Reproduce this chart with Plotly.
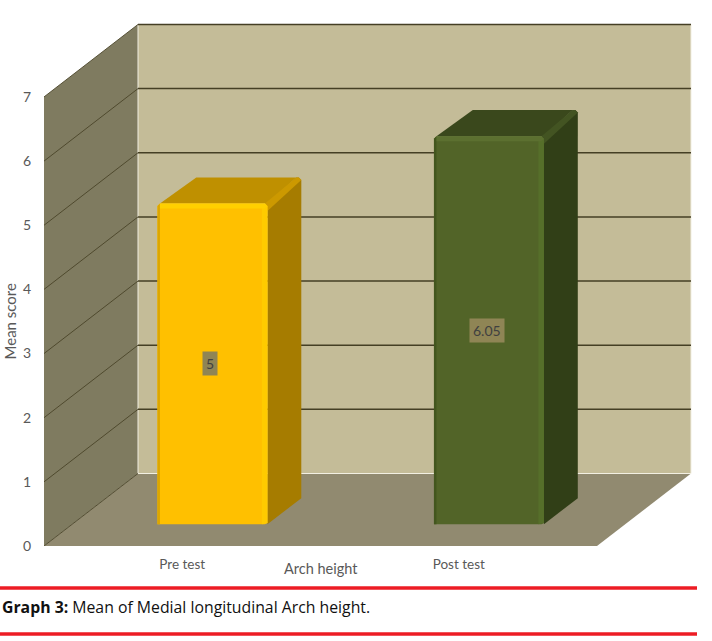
import plotly.graph_objects as go

categories = ['Pre test', 'Post test']
values = [5, 6.05]
value_labels = ['5', '6.05']
y_ticks = [0, 1, 2, 3, 4, 5, 6, 7]

W, H = 712, 641
LEFT, BOTTOM = 44, 95      # plot area starts at the front corner of the floor
PX_U = 276.5               # pixels per category
PX_V = 64.15               # pixels per score unit
DX = 94 / PX_U             # box depth, drawn obliquely
DY = 72.5 / PX_V
BAR_W = 110 / PX_U
BAR_SHIFT = 2 / PX_U
BAR_D0, BAR_D1 = 0.30, 0.66
X0 = -0.5
X1 = X0 + len(categories)
YMAX = y_ticks[-1]

FONT = 'Lato'
TXT = '#595959'


def pt(u, v, d=0.0):
    return u + d * DX, v + d * DY


def poly(points, color):
    xs = [p[0] for p in points] + [points[0][0]]
    ys = [p[1] for p in points] + [points[0][1]]
    return go.Scatter(x=xs, y=ys, mode='lines', fill='toself', fillcolor=color,
                      line=dict(color=color, width=0),
                      hoverinfo='skip', showlegend=False)


def path(points, color, width):
    return go.Scatter(x=[p[0] for p in points], y=[p[1] for p in points], mode='lines',
                      line=dict(color=color, width=width), hoverinfo='skip', showlegend=False)


fig = go.Figure()

# walls and floor
fig.add_trace(poly([pt(X0, 0), pt(X0, 0, 1), pt(X0, YMAX, 1), pt(X0, YMAX)], '#7f7b60'))
fig.add_trace(poly([pt(X0, 0, 1), pt(X1, 0, 1), pt(X1, YMAX, 1), pt(X0, YMAX, 1)], '#c4bc98'))
fig.add_trace(poly([pt(X0, 0), pt(X1, 0), pt(X1, 0, 1), pt(X0, 0, 1)], '#918a70'))

fig.add_trace(path([pt(X0, YMAX, 1), pt(X0, 0, 1), pt(X1, 0, 1), pt(X1, YMAX, 1)], '#f2efe2', 1))

# gridlines, along the side wall then the back wall
for t in y_ticks:
    fig.add_trace(path([pt(X0, t), pt(X0, t, 1)], '#4a4428', 0.9))
    if t > 0:
        fig.add_trace(path([pt(X0, t, 1), pt(X1, t, 1)], '#453f24', 1.5))

# bars
bar_styles = [
    dict(front='#ffc000', left='#dca600', right='#ffcb00', top_band='#ffd000',
         top='#bf9000', side='#a67c00', ridge='#cc9900'),
    dict(front='#526428', left='#43561e', right='#566f2a', top_band='#5c7030',
         top='#3a481c', side='#313f17', ridge='#435422'),
]
ex = 2.5 / PX_U    # bevel widths
ey = 2.5 / PX_V

for i, v in enumerate(values):
    st = bar_styles[i]
    c = i + BAR_SHIFT
    l, r = c - BAR_W / 2, c + BAR_W / 2

    def p(u, h, d=BAR_D0):
        return pt(u, h, d)

    # side face, its back top corner rounded off
    fig.add_trace(poly([p(r, v), p(r - 2 * ex, v, BAR_D1), p(r - ex, v, BAR_D1), p(r, v - ey, BAR_D1),
                        p(r, v - 2 * ey, BAR_D1), p(r, 0, BAR_D1), p(r, 0)], st['side']))
    fig.add_trace(poly([p(l + ex, v), p(l + 2 * ex, v, BAR_D1), p(r - 2 * ex, v, BAR_D1), p(r, v)], st['top']))
    # lighter ridge between top and side
    fig.add_trace(poly([p(r - ex, v), p(r - 2 * ex, v, BAR_D1), p(r - ex, v, BAR_D1), p(r, v - ey, BAR_D1),
                        p(r, v - 3 * ey)], st['ridge']))
    # front face
    fig.add_trace(poly([p(l + ex, 0), p(r - ex, 0), p(r, ey / 2), p(r, v - ey), p(r - ex, v),
                        p(l + ex, v), p(l, v - ey), p(l, 0)], st['front']))
    fig.add_trace(poly([p(l, 0), p(l + ex, 0), p(l + ex, v), p(l, v - ey)], st['left']))
    fig.add_trace(poly([p(r - 2.2 * ex, 0), p(r, ey / 2), p(r, v - ey), p(r - 2.2 * ex, v - ey)], st['right']))
    fig.add_trace(poly([p(l + ex, v - 2 * ey), p(r - ex, v - 2 * ey), p(r, v - ey), p(r - ex, v), p(l + ex, v)],
                       st['top_band']))

annotations = []

# value labels, centred on the front of each bar
for i, v in enumerate(values):
    x, y = pt(i + BAR_SHIFT, v / 2, BAR_D0)
    annotations.append(dict(x=x, y=y, xshift=-2, text=value_labels[i], showarrow=False,
                            bgcolor='#8f8555', borderpad=3,
                            font=dict(family=FONT, size=14, color='#404040')))

annotations.append(dict(x=0.5, y=0, yshift=-22, text='Arch height', showarrow=False,
                        font=dict(family=FONT, size=14.5, color=TXT)))
annotations.append(dict(x=X0, y=YMAX / 2, xshift=-34, text='Mean score', textangle=-90, showarrow=False,
                        font=dict(family=FONT, size=15, color=TXT)))

# caption under the chart
annotations.append(dict(xref='paper', yref='paper',
                        x=(0 - LEFT) / (W - LEFT), y=(H - BOTTOM - 607) / (H - BOTTOM),
                        xanchor='left', yanchor='middle', showarrow=False,
                        text='<b>Graph 3:</b> Mean of Medial longitudinal Arch height.',
                        font=dict(family='Open Sans', size=15.8, color='#111111')))

shapes = []
for py in [588, 634]:
    yy = (H - BOTTOM - py) / (H - BOTTOM)
    shapes.append(dict(type='line', xref='paper', yref='paper', layer='above',
                       x0=(0 - LEFT) / (W - LEFT), x1=(697 - LEFT) / (W - LEFT), y0=yy, y1=yy,
                       line=dict(color='#ed1c24', width=3.5)))

fig.update_layout(
    width=W, height=H,
    margin=dict(l=LEFT, r=0, t=0, b=BOTTOM, pad=0),
    paper_bgcolor='white', plot_bgcolor='white',
    showlegend=False,
    xaxis=dict(range=[X0, X0 + (W - LEFT) / PX_U], tickmode='array', tickvals=[0, 1], ticktext=categories,
               showgrid=False, zeroline=False, showline=False, ticks='outside', ticklen=6,
               tickcolor='rgba(0,0,0,0)', tickfont=dict(family=FONT, size=13.5, color=TXT)),
    yaxis=dict(range=[0, (H - BOTTOM) / PX_V], tickmode='array', tickvals=y_ticks,
               showgrid=False, zeroline=False, showline=False, ticks='outside', ticklen=9,
               tickcolor='rgba(0,0,0,0)', tickfont=dict(family=FONT, size=14, color=TXT)),
    annotations=annotations,
    shapes=shapes,
)

fig.write_html('out.html', config=dict(displayModeBar=False), post_script="document.body.style.margin='0';")
